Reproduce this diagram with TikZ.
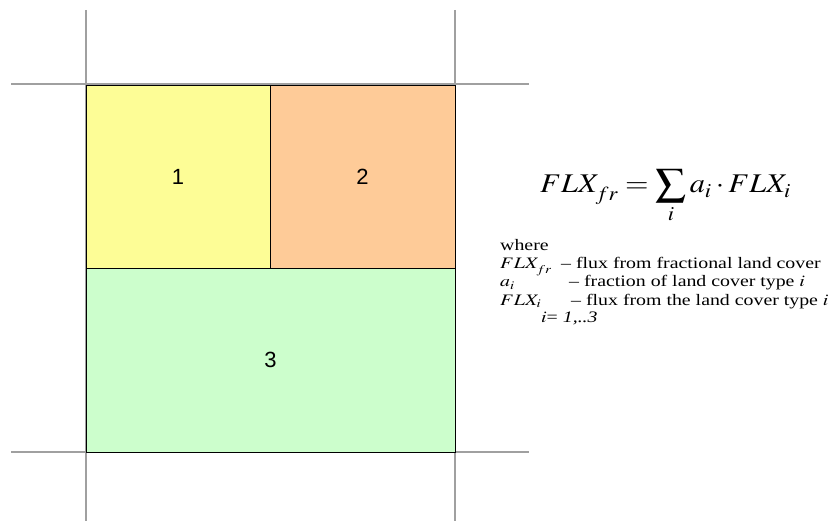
\documentclass[tikz,border=0pt]{standalone}
\usepackage{mathptmx}
\usepackage[no-math]{fontspec}
\setmainfont{Liberation Serif}
\newfontfamily\arialfont{Liberation Sans}
\definecolor{cellyellow}{HTML}{FDFD96}
\definecolor{cellorange}{HTML}{FECB98}
\definecolor{cellgreen}{HTML}{CCFECC}
\definecolor{gridgray}{HTML}{A0A0A0}
\newcommand{\wtext}[1]{\scalebox{1.24}[1]{#1}}
\newcommand{\wform}[1]{\scalebox{1.12}[1]{#1}}
\tikzset{
  gridline/.style={draw=gridgray, line width=1.6pt},
  cell/.style={draw=black, line width=0.9pt, inner sep=0pt, font=\arialfont\fontsize{22}{24}\selectfont},
  legend/.style={anchor=base west, inner sep=0pt, font=\fontsize{16}{18}\selectfont},
}
\begin{document}
\begin{tikzpicture}[x=1pt,y=-1pt]
\useasboundingbox (0,0) rectangle (832,521);
% grid lines
\coordinate (v1t) at (86,10);  \coordinate (v1b) at (86,521);
\coordinate (v2t) at (455,10); \coordinate (v2b) at (455,521);
\coordinate (h1l) at (11,84);  \coordinate (h1r) at (529,84);
\coordinate (h2l) at (11,452); \coordinate (h2r) at (529,452);
\draw[gridline] (v1t) -- (v1b);
\draw[gridline] (v2t) -- (v2b);
\draw[gridline] (h1l) -- (h1r);
\draw[gridline] (h2l) -- (h2r);
% cells
\node[cell, fill=cellyellow, minimum width=184pt, minimum height=183pt] (c1) at (178,176.5) {1};
\node[cell, fill=cellorange, minimum width=185pt, minimum height=183pt] (c2) at (362.5,176.5) {2};
\node[cell, fill=cellgreen, minimum width=369pt, minimum height=184pt] (c3) at (270.5,360) {3};
% formula
\node[anchor=base west, inner sep=0pt, font=\fontsize{27}{30}\selectfont] (formula) at (540,193)
  {\wform{$\displaystyle FLX_{\raisebox{-3pt}{$\scriptstyle fr$}} = \sum_i a_i \cdot FLX_i$}};
% legend
\node[legend] (where) at (500,251) {\wtext{where}};
\node[legend] (s1) at (500,269) {\wtext{$FLX_{\raisebox{-2pt}{$\scriptstyle fr$}}$}};
\node[legend] (d1) at (561,269) {\wtext{– flux from fractional land cover}};
\node[legend] (s2) at (500,287) {\wtext{$a_i$}};
\node[legend] (d2) at (569,287) {\wtext{– fraction of land cover type $i$}};
\node[legend] (s3) at (500,305) {\wtext{$FLX_i$}};
\node[legend] (d3) at (571,305) {\wtext{– flux from the land cover type $i$}};
\node[legend] (range) at (541,322) {\wtext{$i$= \textit{1,..3}}};
\end{tikzpicture}
\end{document}
